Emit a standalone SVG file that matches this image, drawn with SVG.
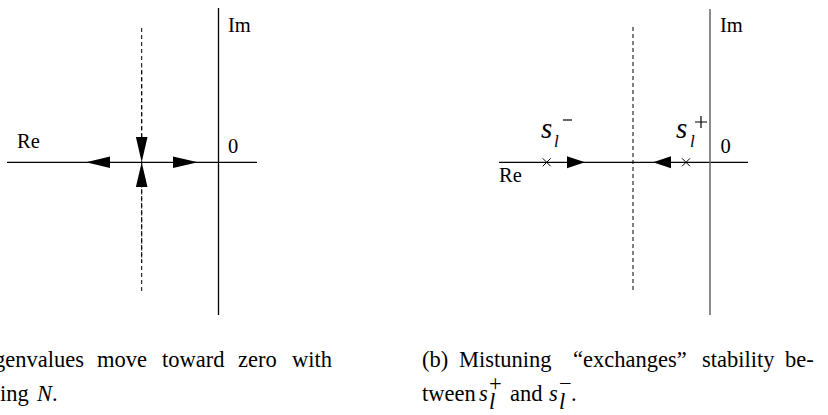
<svg xmlns="http://www.w3.org/2000/svg" width="828" height="415" viewBox="0 0 828 415">
<style>
.ax{stroke:#000;stroke-width:1.3;fill:none}
.axg{stroke:#666;stroke-width:1.5;fill:none}
.dash{stroke:#000;stroke-width:1;stroke-dasharray:4 3;fill:none}
.ah{fill:#000;stroke:none}
.lbl{font-family:"Liberation Serif","Times New Roman",serif;font-size:20.5px;fill:#000}
.cap{font-family:"Liberation Serif","Times New Roman",serif;font-size:22.5px;fill:#000}
.mi{font-family:"Liberation Serif","Times New Roman",serif;font-style:italic;font-weight:normal;fill:#000}
.xm{stroke:#000;stroke-width:1;fill:none}
</style>
<rect width="828" height="415" fill="#fff"/>

<g id="panel-a">
  <g id="axes-a">
    <line class="ax" x1="7" y1="162.3" x2="257" y2="162.3"/>
    <line class="ax" x1="218.5" y1="8" x2="218.5" y2="315"/>
    <line class="dash" x1="141.7" y1="28" x2="141.7" y2="293"/>
    <line class="dash" x1="141.7" y1="67" x2="141.7" y2="137" stroke-dashoffset="3.5"/>
    <line class="dash" x1="141.7" y1="187" x2="141.7" y2="263" stroke-dashoffset="3.5"/>
  </g>
  <g id="labels-a">
    <text class="lbl" x="17" y="148">Re</text>
    <text class="lbl" x="228" y="32">Im</text>
    <text class="lbl" x="228" y="153">0</text>
  </g>
  <g id="arrows-a">
    <polygon class="ah" points="86,162.3 110,156.5 110,168.1"/>
    <polygon class="ah" points="198,162.3 173,156.5 173,168.1"/>
    <polygon class="ah" points="141.7,162.3 135.9,137 147.5,137"/>
    <polygon class="ah" points="141.7,162.3 135.9,187 147.5,187"/>
  </g>
</g>

<g id="panel-b">
  <g id="axes-b">
    <line class="ax" x1="499" y1="162.3" x2="748" y2="162.3"/>
    <line class="axg" x1="710" y1="9" x2="710" y2="315"/>
    <line class="dash" x1="633" y1="27" x2="633" y2="293"/>
  </g>
  <g id="labels-b">
    <text class="lbl" x="499" y="182">Re</text>
    <text class="lbl" x="720" y="32">Im</text>
    <text class="lbl" x="720.5" y="153">0</text>
  </g>
  <g id="s-minus">
    <path class="xm" d="M542.7,158.3 L550.7,166.3 M550.7,158.3 L542.7,166.3"/>
    <text class="mi" x="541" y="138" font-size="29">s</text>
    <text class="mi" x="554" y="147" font-size="17">l</text>
    <line x1="563" y1="120" x2="572" y2="120" stroke="#000" stroke-width="1.2"/>
  </g>
  <g id="s-plus">
    <path class="xm" d="M682,158.3 L690,166.3 M690,158.3 L682,166.3"/>
    <text class="mi" x="676" y="138" font-size="29">s</text>
    <text class="mi" x="690" y="147" font-size="17">l</text>
    <path d="M695,122 H707 M701,116 V128" stroke="#000" stroke-width="1.2" fill="none"/>
  </g>
  <g id="arrows-b">
    <polygon class="ah" points="585,162.3 567,156.3 567,168.3"/>
    <polygon class="ah" points="653,162.3 671,156.3 671,168.3"/>
  </g>
</g>

<g id="caption-a">
  <text class="cap" y="367"><tspan x="-6">genvalues</tspan><tspan x="97">move</tspan><tspan x="162">toward</tspan><tspan x="238">zero</tspan><tspan x="292">with</tspan></text>
  <text class="cap" y="401"><tspan x="0">ing</tspan><tspan x="37" font-style="italic">N</tspan><tspan>.</tspan></text>
</g>

<g id="caption-b">
  <text class="cap" y="367"><tspan x="422">(b)</tspan><tspan x="459">Mistuning</tspan><tspan x="573">“exchanges”</tspan><tspan x="702">stability</tspan><tspan x="785">be-</tspan></text>
  <text class="cap" y="401"><tspan x="422">tween</tspan><tspan x="479" font-style="italic">s</tspan><tspan x="510">and</tspan><tspan x="549" font-style="italic">s</tspan><tspan x="571">.</tspan></text>
  <text class="cap" font-size="12" font-style="italic" y="409"><tspan x="489">l</tspan><tspan x="559">l</tspan></text>
  <text class="cap" font-size="13" y="391"><tspan x="489">+</tspan><tspan x="559">−</tspan></text>
</g>
</svg>
